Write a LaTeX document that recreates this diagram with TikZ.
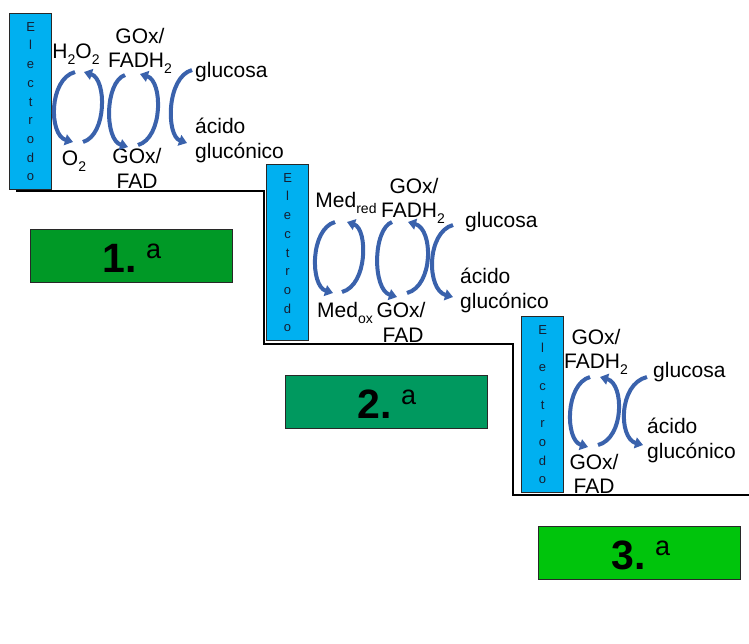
\documentclass[tikz,border=0pt]{standalone}
\usepackage{fontspec}
\setmainfont{Liberation Sans}
\usetikzlibrary{arrows.meta}
\definecolor{elecblue}{RGB}{0,176,240}
\definecolor{arrblue}{RGB}{58,98,172}
\definecolor{gone}{RGB}{0,153,38}
\definecolor{gtwo}{RGB}{0,153,95}
\definecolor{gthree}{RGB}{0,196,12}
\definecolor{edgegray}{RGB}{40,40,40}
\newcommand\mysub[1]{\raisebox{-0.3em}{\fontsize{14}{14}\selectfont #1}}
\newcommand\cycarc[5]{%
  \pgfmathsetmacro\cyX{(#3-(#1+#4)/8)/0.75}%
  \pgfmathsetmacro\cyA{#2+0.1*(#5-#2)}%
  \pgfmathsetmacro\cyB{#2+0.9*(#5-#2)}%
  \draw[cyc] (#1,#2) .. controls (\cyX,\cyA) and (\cyX,\cyB) .. (#4,#5);}
\begin{document}
\begin{tikzpicture}[x=1pt,y=-1pt,
  lbl/.style={font=\fontsize{21}{25}\selectfont, inner sep=0pt, anchor=base},
  lblw/.style={lbl, anchor=base west},
  electrode/.style={draw=edgegray, line width=1.2pt, fill=elecblue, minimum width=42pt, minimum height=176pt, inner sep=0pt, align=center, font=\fontsize{13}{18.7}\selectfont, text={rgb,255:red,20;green,30;blue,50}, anchor=north west},
  numbox/.style={draw=edgegray, line width=1pt, minimum width=202pt, minimum height=53pt, inner sep=0pt, anchor=north west},
  numtxt/.style={inner sep=0pt, font=\fontsize{41}{41}\selectfont\bfseries},
  cyc/.style={draw=arrblue, line width=4pt, -{Triangle[width=11pt,length=8pt]}},
  stairline/.style={draw=black, line width=1.8pt}
]
\useasboundingbox (0,0) rectangle (749,643);

% stage 1 texts
\node[lbl] (h2o2) at (76,58) {H\mysub{2}O\mysub{2}};
\node[lbl] (gox1a) at (140,43) {GOx/};
\node[lbl] (fadh1) at (140,67) {FADH\mysub{2}};
\node[lblw] (glu1) at (195,77) {glucosa};
\node[lblw] (aci1) at (195,133) {ácido};
\node[lblw] (gln1) at (195,158) {glucónico};
\node[lbl] (o2) at (74,165) {O\mysub{2}};
\node[lbl] (gox1b) at (137,163) {GOx/};
\node[lbl] (fad1) at (137,188) {FAD};

% stage 2 texts
\node[lbl] (medr) at (346,207) {Med\mysub{red}};
\node[lbl] (gox2a) at (414,193) {GOx/};
\node[lbl] (fadh2) at (413,217) {FADH\mysub{2}};
\node[lblw] (glu2) at (465,227) {glucosa};
\node[lblw] (aci2) at (460,283) {ácido};
\node[lblw] (gln2) at (460,308) {glucónico};
\node[lbl] (medo) at (345,317) {Med\mysub{ox}};
\node[lbl] (gox2b) at (401,317) {GOx/};
\node[lbl] (fad2) at (403,342) {FAD};

% stage 3 texts
\node[lbl] (gox3a) at (596,344) {GOx/};
\node[lbl] (fadh3) at (596,368) {FADH\mysub{2}};
\node[lblw] (glu3) at (653,377) {glucosa};
\node[lblw] (aci3) at (647,433) {ácido};
\node[lblw] (gln3) at (647,458) {glucónico};
\node[lbl] (gox3b) at (594,469) {GOx/};
\node[lbl] (fad3) at (594,493) {FAD};

% stair line
\coordinate (s0) at (16,191);
\coordinate (s1) at (264,191);
\coordinate (s2) at (264,344);
\coordinate (s3) at (513,344);
\coordinate (s4) at (513,495);
\coordinate (s5) at (749,495);
\draw[stairline] (s0) -- (s1) -- (s2) -- (s3) -- (s4) -- (s5);

% electrodes
\node[electrode] (el1) at (9,13) {E\\l\\e\\c\\t\\r\\o\\d\\o};
\node[electrode] (el2) at (266,164) {E\\l\\e\\c\\t\\r\\o\\d\\o};
\node[electrode] (el3) at (521,316) {E\\l\\e\\c\\t\\r\\o\\d\\o};

% cycle arrows stage 1
\cycarc{75}{72}{55}{73}{142}
\cycarc{83}{142}{101}{84}{72}
\cycarc{125}{75}{110}{128}{147}
\cycarc{138}{145}{157}{140}{74}
\cycarc{192}{70}{172}{187}{143}
% stage 2
\cycarc{335}{222}{316}{333}{293}
\cycarc{342}{292}{362}{347}{222}
\cycarc{392}{222}{378}{397}{297}
\cycarc{407}{293}{427}{408}{222}
\cycarc{453}{225}{433}{453}{297}
% stage 3
\cycarc{590}{377}{571}{588}{447}
\cycarc{598}{445}{618}{600}{377}
\cycarc{647}{377}{625}{643}{445}

% numbered boxes
\node[numbox, fill=gone] (b1) at (30,229) {};
\node[numbox, fill=gtwo] (b2) at (285,375) {};
\node[numbox, fill=gthree] (b3) at (538,526) {};
\node[numtxt] (t1) at (132,258.5) {1.\hspace{9pt}\raisebox{14pt}{\fontsize{27}{27}\selectfont\mdseries a}};
\node[numtxt] (t2) at (387,404.5) {2.\hspace{9pt}\raisebox{14pt}{\fontsize{27}{27}\selectfont\mdseries a}};
\node[numtxt] (t3) at (641,555.5) {3.\hspace{9pt}\raisebox{14pt}{\fontsize{27}{27}\selectfont\mdseries a}};
\end{tikzpicture}
\end{document}
